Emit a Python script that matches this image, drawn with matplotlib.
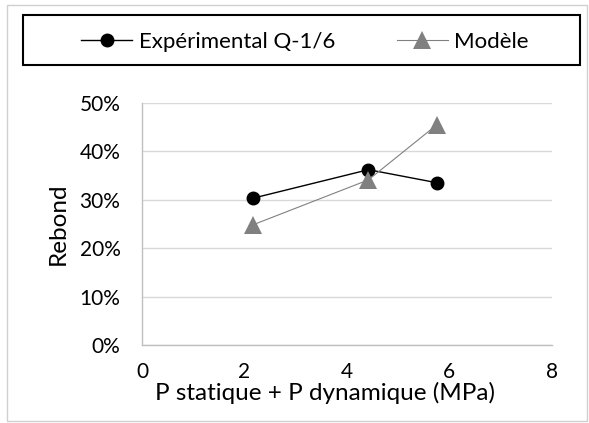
import matplotlib.pyplot as plt
from matplotlib.patches import Rectangle
from matplotlib.ticker import PercentFormatter

# Pressure (MPa) and rebound fractions
pression = [2.16, 4.42, 5.76]
rebond_exp = [0.303, 0.362, 0.335]
rebond_modele = [0.248, 0.341, 0.455]

x_ticks = [0, 2, 4, 6, 8]
y_ticks = [0, 0.1, 0.2, 0.3, 0.4, 0.5]

plt.rcParams['font.family'] = ['Lato', 'DejaVu Sans']

fig = plt.figure(figsize=(5.89, 4.23), dpi=100)
ax = fig.add_axes([0.241, 0.184, 0.696, 0.573])

ax.plot(pression, rebond_exp, color='black', linewidth=1.0,
        marker='o', markersize=9, label='Expérimental Q-1/6')
ax.plot(pression, rebond_modele, color='#808080', linewidth=0.8,
        marker='^', markersize=13, markeredgewidth=0, label='Modèle')

ax.set_xlim(0, 8)
ax.set_ylim(0, 0.5)
ax.set_xticks(x_ticks)
ax.set_yticks(y_ticks)
ax.yaxis.set_major_formatter(PercentFormatter(1.0, decimals=0))
ax.tick_params(length=0, labelsize=15)
ax.tick_params(axis='y', pad=15.5)
ax.tick_params(axis='x', pad=12)

ax.grid(True, axis='y', color='#d9d9d9', linewidth=1)
ax.set_axisbelow(True)
for side in ['top', 'right']:
    ax.spines[side].set_visible(False)
for side in ['left', 'bottom']:
    ax.spines[side].set_color('#bfbfbf')
    ax.spines[side].set_linewidth(1)

ax.set_xlabel('P statique + P dynamique (MPa)', fontsize=17.5, labelpad=0)
ax.xaxis.label.set_x(0.447)
ax.set_ylabel('Rebond', fontsize=17.5, labelpad=8)

# legend box across the top
fig.patches.append(Rectangle((0.039, 0.846), 0.946, 0.118, transform=fig.transFigure,
                             fill=False, edgecolor='black', linewidth=1.5))
fig.legend(loc='center', bbox_to_anchor=(0.518, 0.901), ncol=2, frameon=False,
           fontsize=16, handlelength=2.3, columnspacing=2.75, handletextpad=0.3)

# outer chart border
fig.patches.append(Rectangle((0.012, 0.005), 0.984, 0.983, transform=fig.transFigure,
                             fill=False, edgecolor='#d0d0d0', linewidth=1))

fig.savefig('out.png', dpi=100)
